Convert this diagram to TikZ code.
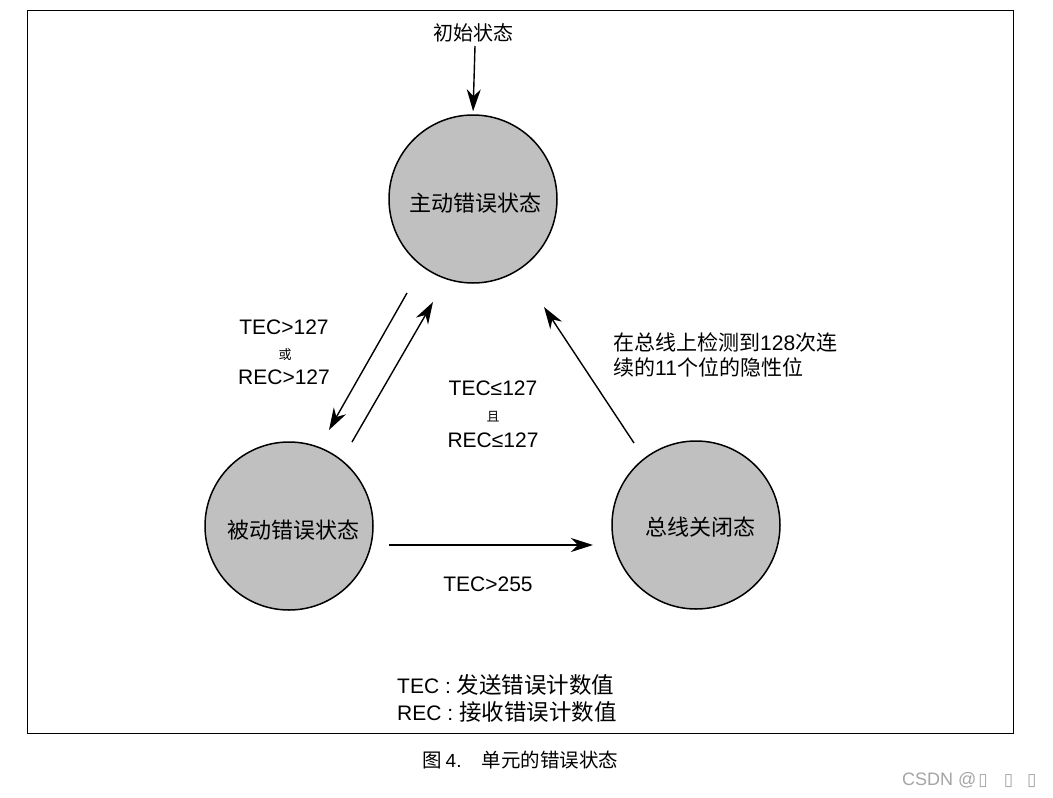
\documentclass[tikz,border=0pt]{standalone}
\usepackage{fontspec}
\setmainfont{Liberation Sans}
\newfontfamily\cjk{Noto Sans CJK SC}
\newfontfamily\symfont{DejaVu Sans}
\usetikzlibrary{arrows.meta}
\definecolor{stategray}{RGB}{192,192,192}
\definecolor{wmgray}{RGB}{165,165,165}
\begin{document}
\begin{tikzpicture}[x=1pt,y=-1pt,
  state/.style={circle,draw=black,line width=1.5pt,fill=stategray,minimum size=168pt,inner sep=0pt},
  statetext/.style={inner sep=0pt,font=\cjk\fontsize{22}{26}\selectfont},
  arr/.style={line width=1.4pt,-{Stealth[length=22pt,width=14pt,inset=7pt]}},
  lbl/.style={inner sep=0pt,font=\fontsize{21}{25}\selectfont},
  small/.style={inner sep=0pt,font=\cjk\fontsize{13}{15}\selectfont},
  cjklbl/.style={inner sep=0pt,anchor=west,font=\fontsize{21}{25}\selectfont},
  legend/.style={inner sep=0pt,anchor=west,font=\fontsize{21}{25}\selectfont}]
\fill[white] (0,0) rectangle (1053,798);
\useasboundingbox (0,0) rectangle (1053,798);
\draw[line width=1pt] (27,10) rectangle (1013,733);

% states
\node[state] (active) at (473,199) {};
\node[state] (passive) at (289,526) {};
\node[state] (busoff) at (696,525) {};
\node[statetext] (activeT) at (475,203) {主动错误状态};
\node[statetext] (passiveT) at (293,530) {被动错误状态};
\node[statetext] (busoffT) at (700,527) {总线关闭态};

% initial
\node[inner sep=0pt,font=\cjk\fontsize{20}{24}\selectfont] (init) at (473,33) {初始状态};
\coordinate (ia) at (475,46);
\draw[arr,shorten >=3pt] (ia) -- (active.north);

% connectors
\coordinate (a1) at (407,293); \coordinate (p1) at (329,430);
\coordinate (p2) at (352,442); \coordinate (a2) at (433,302);
\coordinate (b1) at (634,443); \coordinate (a3) at (544,307);
\coordinate (p3) at (389,545); \coordinate (b2) at (593,545);
\draw[arr] (a1) -- (p1);
\draw[arr] (p2) -- (a2);
\draw[arr] (b1) -- (a3);
\draw[arr] (p3) -- (b2);

% labels
\node[lbl] (l1) at (284,327) {TEC>127};
\node[small] (l2) at (285,355) {或};
\node[lbl] (l3) at (284,377) {REC>127};
\node[lbl] (m1) at (493,388) {TEC≤127};
\node[small] (m2) at (493,417) {且};
\node[lbl] (m3) at (493,440) {REC≤127};
\node[lbl] (b0) at (488,584) {TEC>255};
\node[cjklbl] (r1) at (613,342) {{\cjk 在总线上检测到}128{\cjk 次连}};
\node[cjklbl] (r2) at (613,367) {{\cjk 续的}11{\cjk 个位的隐性位}};

% legend
\node[legend] (g1) at (397,685) {TEC : {\cjk\fontsize{22.5}{25}\selectfont 发送错误计数值}};
\node[legend] (g2) at (397,712) {REC : {\cjk\fontsize{22.5}{25}\selectfont 接收错误计数值}};

% caption
\node[inner sep=0pt,anchor=west,font=\fontsize{19}{22}\selectfont] (cap) at (422,760)
  {{\cjk\fontsize{19.5}{22}\selectfont 图}\hspace{4pt}4.\hspace{20pt}{\cjk\fontsize{19.5}{22}\selectfont 单元的错误状态}};

% watermark
\node[inner sep=0pt,anchor=west,text=wmgray,font=\fontsize{18}{20}\selectfont] (wm) at (902,780)
  {CSDN @\hspace{2pt}{\symfont\fontsize{17}{19}\selectfont ▯}\hspace{16pt}{\symfont\fontsize{17}{19}\selectfont ▯}\hspace{14pt}{\symfont\fontsize{17}{19}\selectfont ▯}};
\end{tikzpicture}
\end{document}
